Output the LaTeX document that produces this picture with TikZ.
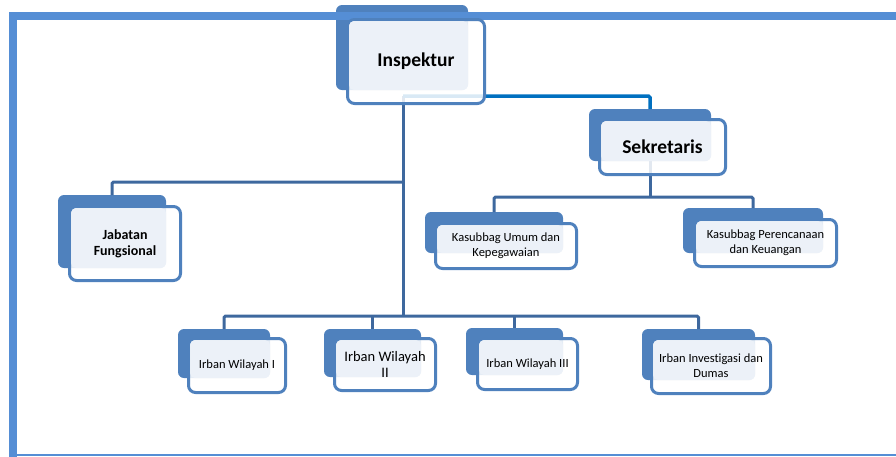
\documentclass[tikz,border=0pt]{standalone}
\usepackage{fontspec}
\setmainfont{Carlito}[Ligatures=NoCommon]
\definecolor{boxblue}{RGB}{79,129,189}
\definecolor{framebl}{RGB}{85,142,213}
\definecolor{connbl}{RGB}{62,104,158}
\definecolor{linkbl}{RGB}{0,112,192}
\definecolor{lightbl}{RGB}{237,242,249}
\tikzset{
 backbox/.style={fill=boxblue, rounded corners=6pt, anchor=north west, inner sep=0pt, outer sep=0pt},
 frontbox/.style={draw=boxblue, line width=3pt, fill=white, fill opacity=0.85, rounded corners=7pt, anchor=north west, inner sep=0pt},
 lightarea/.style={fill=lightbl, fill opacity=0.9, rounded corners=5pt},
 conn/.style={draw=connbl, line width=3pt, rounded corners=1.5pt},
 link/.style={draw=linkbl, line width=3.5pt, rounded corners=1.5pt},
 framebar/.style={draw=framebl},
 bigtxt/.style={font=\bfseries\fontsize{19.5}{22}\selectfont, align=center},
 midtxt/.style={font=\bfseries\fontsize{14}{16}\selectfont, align=center},
 smalltxt/.style={font=\fontsize{12.5}{15}\selectfont, align=center},
 midplain/.style={font=\fontsize{14.5}{16}\selectfont, align=center},
}
\newcommand\backunit[5]{\node[backbox, minimum width={(#4-#2)*1pt}, minimum height={(#5-#3)*1pt}] (#1B) at (#2,#3) {};}
\newcommand\frontunit[5]{\node[frontbox, minimum width={(#4-#2-3)*1pt}, minimum height={(#5-#3-3)*1pt}] (#1F) at (#2,#3) {};
 \fill[lightarea] ([xshift=3pt,yshift=-3pt]#1F.north west) rectangle (#1B.south east);}
\begin{document}
\begin{tikzpicture}[x=1pt,y=-1pt]
\useasboundingbox (0,0) rectangle (896,456);
% back shapes
\backunit{Insp}{336}{5}{468}{90}
\backunit{Sek}{589}{109}{711}{161}
\backunit{Jab}{58}{195}{166}{268}
\backunit{KU}{425}{212}{563}{253}
\backunit{KP}{683}{208}{823}{253}
\backunit{IWa}{178}{329}{270}{378}
\backunit{IWb}{324}{329}{421}{377}
\backunit{IWc}{466}{328}{563}{375}
\backunit{IInv}{642}{329}{755}{380}
% frame
\draw[framebar, line width=8pt] (905,16) -- (13,16) -- (13,465);
\draw[framebar, line width=2pt] (9,455) -- (905,455);
% connectors
\coordinate (tTop) at (403,96);
\coordinate (tBus) at (403,316);
\coordinate (tJab) at (403,182);
\coordinate (sBus) at (650,197);
\draw[conn] (tTop) -- (tBus);
\draw[conn] (tJab) -| (JabB.north);
\draw[conn] (IWaB.north) |- (tBus) -| (IInvB.north);
\draw[conn] (tBus -| IWbB.north) -- (IWbB.north);
\draw[conn] (tBus -| IWcB.north) -- (IWcB.north);
\draw[link] (tTop) -| (SekB.north);
\draw[conn] (SekB.south) -- (sBus);
\draw[conn] (KUB.north) |- (sBus) -| (KPB.north);
% front shapes
\frontunit{Insp}{346}{18}{486}{105}
\frontunit{Sek}{598}{118}{727}{176}
\frontunit{Jab}{68}{205}{182}{282}
\frontunit{KU}{434}{222}{578}{270}
\frontunit{KP}{693}{218}{838}{268}
\frontunit{IWa}{187}{337}{287}{394}
\frontunit{IWb}{333}{337}{437}{392}
\frontunit{IWc}{476}{337}{579}{391}
\frontunit{IInv}{650}{337}{772}{395}
% texts
\node[bigtxt] (InspT) at (InspF.center) {Inspektur};
\node[bigtxt] (SekT) at (SekF.center) {Sekretaris};
\node[midtxt] (JabT) at (JabF.center) {Jabatan\\Fungsional};
\node[smalltxt] (KUT) at (KUF.center) {Kasubbag Umum dan\\Kepegawaian};
\node[smalltxt] (KPT) at (KPF.center) {Kasubbag Perencanaan\\dan Keuangan};
\node[smalltxt] (IWaT) at (IWaF.center) {Irban Wilayah I};
\node[midplain] (IWbT) at (IWbF.center) {Irban Wilayah\\II};
\node[smalltxt] (IWcT) at (IWcF.center) {Irban Wilayah III};
\node[smalltxt] (IInvT) at (IInvF.center) {Irban Investigasi dan\\Dumas};
\end{tikzpicture}
\end{document}
